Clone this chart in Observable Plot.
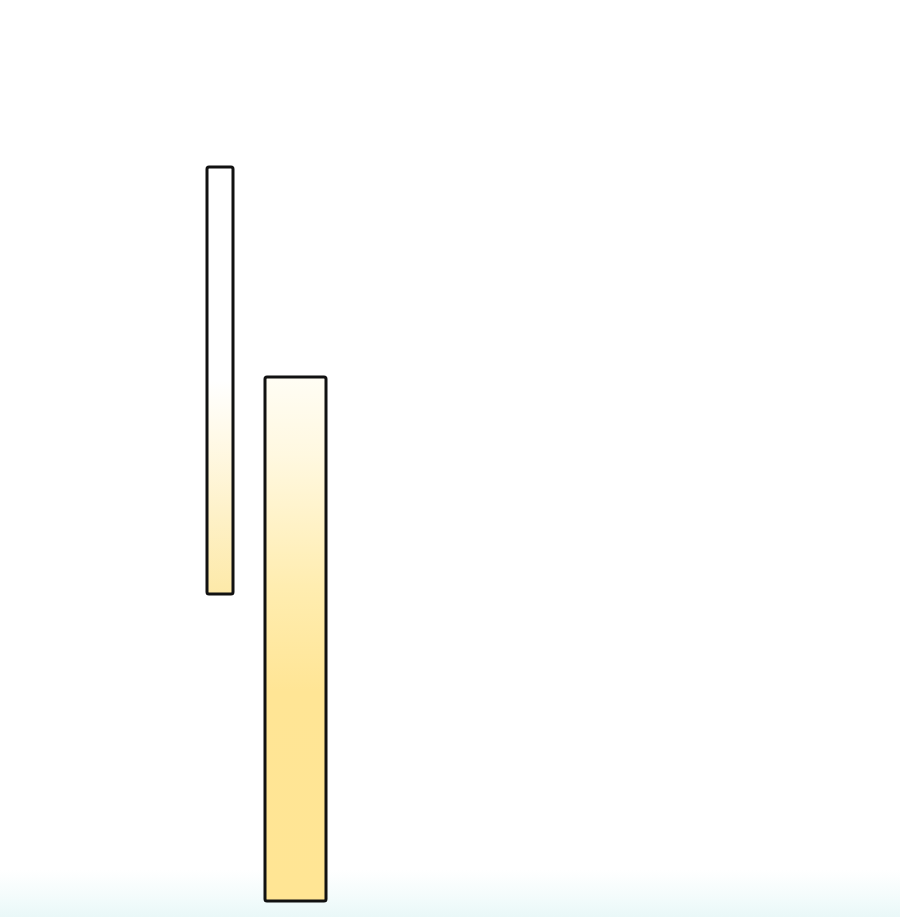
<!DOCTYPE html>
<html>
<head>
<meta charset="utf-8">
<script src="https://cdn.jsdelivr.net/npm/d3@7"></script>
<script src="https://cdn.jsdelivr.net/npm/@observablehq/plot@0.6"></script>
<style>
  html, body { margin: 0; padding: 0; }
  body {
    width: 900px; height: 917px; overflow: hidden;
    background: linear-gradient(to bottom, #ffffff 0px, #ffffff 870px, #f2fbfb 900px, #e9f8f8 917px);
    font-family: "Noto Sans", sans-serif;
  }
  #chart svg { display: block; }
</style>
</head>
<body>
<div id="chart"></div>
<script>
// Floating bars: horizontal extent and vertical extent (data units)
const barIds   = ["g0", "g1"];
const barLeft  = [207, 265];
const barRight = [233, 326];
const barLow   = [323, 16];
const barHigh  = [750, 540];

const data = barIds.map((id, i) => ({
  id, x1: barLeft[i], x2: barRight[i], y1: barLow[i], y2: barHigh[i]
}));

const chart = Plot.plot({
  width: 900,
  height: 917,
  margin: 0,
  style: { background: "transparent", overflow: "visible" },
  x: { domain: [0, 900], range: [0, 900], axis: null },
  y: { domain: [0, 917], range: [917, 0], axis: null },
  color: { type: "identity" },
  marks: [
    Plot.rect(data, {
      x1: "x1", x2: "x2", y1: "y1", y2: "y2",
      fill: d => `url(#${d.id})`,
      stroke: "#111",
      strokeWidth: 3,
      rx: 2
    })
  ]
});

const ns = "http://www.w3.org/2000/svg";
const defs = document.createElementNS(ns, "defs");
const grads = {
  g0: [[0, "#ffffff"], [0.5, "#ffffff"], [0.62, "#fffaea"], [1, "#fde9a8"]],
  g1: [[0, "#fffdf4"], [0.15, "#fff8e0"], [0.4, "#ffedb0"], [0.6, "#ffe595"], [1, "#ffe594"]]
};
for (const [id, stops] of Object.entries(grads)) {
  const lg = document.createElementNS(ns, "linearGradient");
  lg.setAttribute("id", id);
  lg.setAttribute("x1", "0"); lg.setAttribute("y1", "0");
  lg.setAttribute("x2", "0"); lg.setAttribute("y2", "1");
  for (const [o, c] of stops) {
    const s = document.createElementNS(ns, "stop");
    s.setAttribute("offset", o);
    s.setAttribute("stop-color", c);
    lg.appendChild(s);
  }
  defs.appendChild(lg);
}
chart.insertBefore(defs, chart.firstChild);
document.getElementById("chart").appendChild(chart);
</script>
</body>
</html>
